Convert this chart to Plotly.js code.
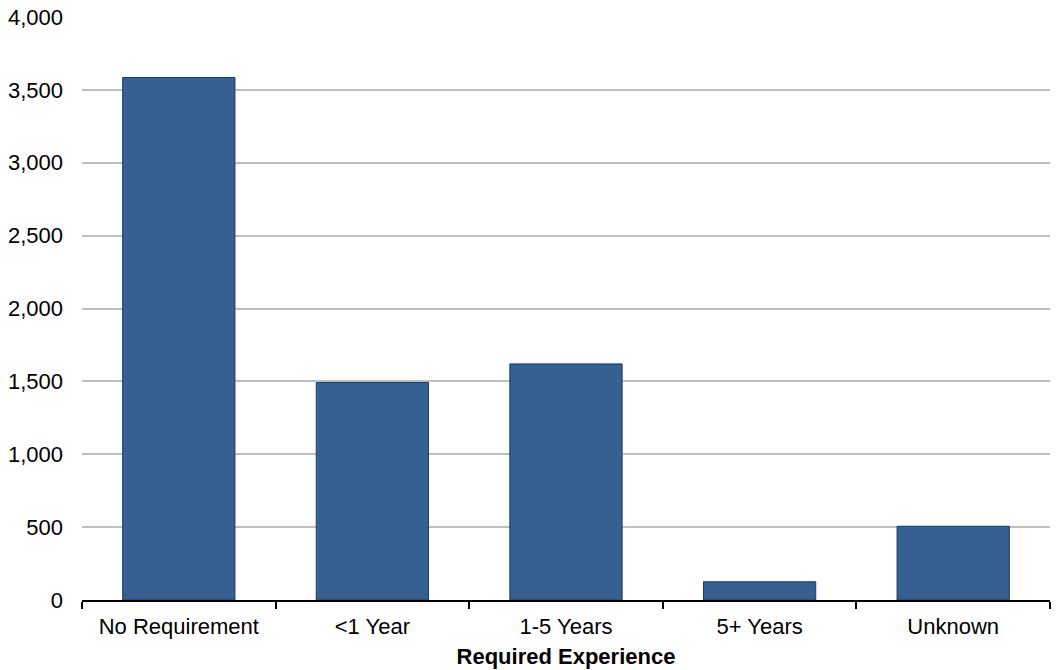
<!DOCTYPE html>
<html>
<head>
<meta charset="utf-8">
<script src="https://cdn.plot.ly/plotly-3.0.1.min.js"></script>
<style>html,body{margin:0;padding:0;background:#fff;}#chart{width:1057px;height:670px;}</style>
</head>
<body>
<div id="chart"></div>
<script>
const categories = ["No Requirement", "<1 Year", "1-5 Years", "5+ Years", "Unknown"];
const counts = [3585, 1492, 1620, 125, 506];
const yTickValues = [0, 500, 1000, 1500, 2000, 2500, 3000, 3500, 4000];
const yTickLabels = ["0", "500", "1,000", "1,500", "2,000", "2,500", "3,000", "3,500", "4,000"];

const trace = {
  type: "bar",
  x: categories,
  y: counts,
  marker: { color: "#376092", line: { color: "#203a5c", width: 1 } },
  hoverinfo: "x+y"
};

const layout = {
  width: 1057,
  height: 670,
  margin: { l: 82, r: 7, t: 17, b: 70 },
  paper_bgcolor: "#ffffff",
  plot_bgcolor: "#ffffff",
  font: { family: "Liberation Sans, Arial, sans-serif", size: 22, color: "#000000" },
  bargap: 0.42,
  showlegend: false,
  xaxis: {
    type: "category",
    showline: true,
    linecolor: "#000000",
    linewidth: 2,
    ticks: "outside",
    tickson: "boundaries",
    ticklen: 7,
    tickwidth: 2,
    tickcolor: "#000000",
    showgrid: false,
    ticklabelstandoff: 6,
    tickfont: { size: 22 },
    title: { text: "<b>Required Experience</b>", font: { size: 22 }, standoff: 10 }
  },
  yaxis: {
    range: [0, 4000],
    tickvals: yTickValues,
    ticktext: yTickLabels,
    showgrid: true,
    gridcolor: "#bfbfbf",
    gridwidth: 2,
    zeroline: false,
    showline: false,
    ticks: "",
    ticklabelstandoff: 18,
    tickfont: { size: 22 }
  }
};

Plotly.newPlot("chart", [trace], layout, { displayModeBar: false, staticPlot: true });
</script>
</body>
</html>
